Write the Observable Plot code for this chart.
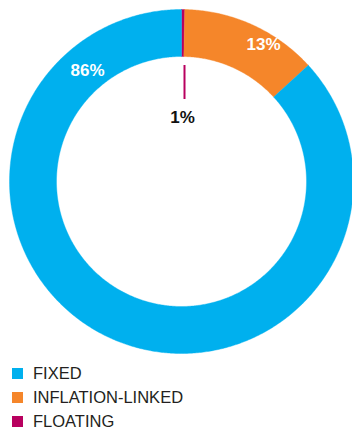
<!DOCTYPE html>
<html>
<head>
<meta charset="utf-8">
<script src="https://cdn.jsdelivr.net/npm/d3@7"></script>
<script src="https://cdn.jsdelivr.net/npm/@observablehq/plot@0.6"></script>
<style>
  body { margin: 0; background: #fff; font-family: "Liberation Sans", Arial, Helvetica, sans-serif; }
  #chart svg { display: block; }
  .legend { margin: -1px 0 0 0; padding: 0; }
  .legend .row { display: flex; align-items: center; height: 24px; }
  .legend .sw { width: 11px; height: 11px; margin-left: 12px; margin-right: 10px; }
  .legend .lb { font-size: 16.5px; color: #231f20; }
</style>
</head>
<body>
<div id="chart"></div>
<div class="legend" id="legend"></div>
<script>
// ---- data ----
const categories = ["FIXED", "INFLATION-LINKED", "FLOATING"];
const shares = [86.8, 12.9, 0.3];          // arc share as drawn
const pctLabels = ["86%", "13%", "1%"];     // printed labels
const colors = ["#00b0ee", "#f5862a", "#b8005f"];
const drawOrder = ["FLOATING", "INFLATION-LINKED", "FIXED"]; // clockwise from 12 o'clock

// ---- geometry (library units: x/y scales) ----
const R = 172, r = 125;
const total = d3.sum(shares);
const pts = [];
let acc = 0;
for (const name of drawOrder) {
  const i = categories.indexOf(name);
  const a0 = acc / total * 2 * Math.PI;
  acc += shares[i];
  const a1 = acc / total * 2 * Math.PI;
  const n = Math.max(2, Math.ceil((a1 - a0) / (Math.PI / 360)));
  const ring = [];
  for (let k = 0; k <= n; k++) { const a = a0 + (a1 - a0) * k / n; ring.push([Math.sin(a) * R, Math.cos(a) * R]); }
  for (let k = n; k >= 0; k--) { const a = a0 + (a1 - a0) * k / n; ring.push([Math.sin(a) * r, Math.cos(a) * r]); }
  ring.push(ring[0]);
  for (const [x, y] of ring) pts.push({key: name, x, y});
}

const labelData = [
  {text: pctLabels[0], x: -94, y: 111, fill: "white"},
  {text: pctLabels[1], x: 82, y: 137, fill: "white"},
  {text: pctLabels[2], x: 1, y: 64, fill: "#111"}
];

const chart = Plot.plot({
  width: 352,
  height: 362,
  margin: 0,
  x: {domain: [-181, 171], axis: null},
  y: {domain: [-181, 181], axis: null},
  color: {domain: categories, range: colors},
  style: {background: "white"},
  marks: [
    Plot.line(pts, {x: "x", y: "y", z: "key", fill: "key", stroke: "key", strokeWidth: 0.4, curve: "linear"}),
    Plot.ruleX([3], {y1: 82, y2: 116, stroke: colors[2], strokeWidth: 2}),
    Plot.text(labelData, {x: "x", y: "y", text: "text", fill: d => d.fill, fontSize: 17, fontWeight: "bold",
      fontFamily: "Liberation Sans, Arial, Helvetica, sans-serif", textAnchor: "middle"})
  ]
});
document.getElementById("chart").appendChild(chart);

const legend = document.getElementById("legend");
categories.forEach((c, i) => {
  const row = document.createElement("div");
  row.className = "row";
  row.innerHTML = `<div class="sw" style="background:${colors[i]}"></div><div class="lb">${c}</div>`;
  legend.appendChild(row);
});
</script>
</body>
</html>
